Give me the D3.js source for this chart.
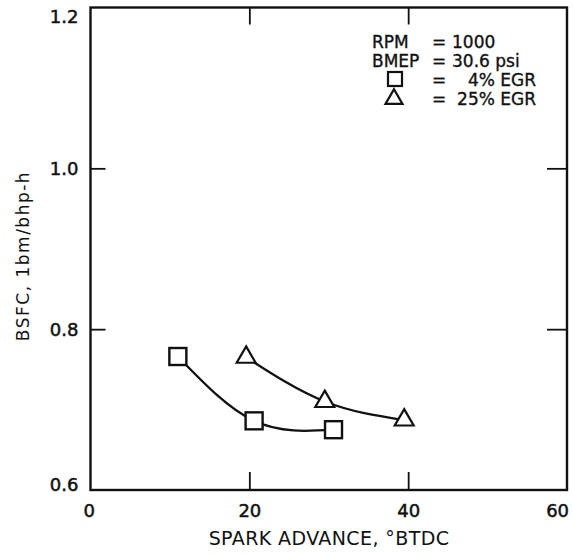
<!DOCTYPE html>
<html><head><meta charset="utf-8">
<script src="https://cdn.jsdelivr.net/npm/d3@7"></script>
<style>
body{margin:0;background:#fff;}
svg{display:block;}
text{font-family:"DejaVu Sans",sans-serif;fill:#111;}
</style></head>
<body><svg id="chart" width="573" height="556"></svg>
<script>
// ---- data ----
const xTicks = [0, 20, 40, 60];
const yTicks = [0.6, 0.8, 1.0, 1.2];
const sparkAdvance4 = [11, 20.6, 30.6];
const bsfc4 = [0.766, 0.686, 0.675];
const sparkAdvance25 = [19.6, 29.5, 39.5];
const bsfc25 = [0.765, 0.71, 0.687];
const legendKeys = ["RPM", "BMEP"];
const legendVals = ["1000", "30.6 psi"];
const seriesNames = ["4% EGR", "25% EGR"];
const xTitle = "SPARK ADVANCE, °BTDC";
const yTitle = "BSFC, 1bm/bhp-h";

const svg = d3.select("#chart");
const L = 90.5, R = 567, T = 7.5, B = 490;
const x = d3.scaleLinear().domain([0, 60]).range([L, R]);
const y = d3.scaleLinear().domain([0.6, 1.2]).range([B, T]);

// frame
svg.append("rect").attr("x", L).attr("y", T).attr("width", R - L).attr("height", B - T)
  .attr("fill", "none").attr("stroke", "#111").attr("stroke-width", 2.4);

// axes with inward ticks
const axStyle = g => {
  g.select(".domain").remove();
  g.selectAll(".tick line").attr("stroke", "#111").attr("stroke-width", 1.8);
  g.selectAll(".tick text").style("font-family", "DejaVu Sans, sans-serif")
    .style("font-size", "18px").attr("fill", "#111")
    .attr("stroke", "#111").attr("stroke-width", 0.5);
};
const gl = svg.append("g").attr("transform", `translate(${L},0)`)
  .call(d3.axisLeft(y).tickValues(yTicks).tickFormat(d3.format(".1f")).tickSize(-15).tickPadding(12))
  .call(axStyle);
gl.selectAll(".tick text").attr("dy", d => d === 1.2 ? "0.85em" : d === 0.6 ? "0.0em" : "0.35em");
gl.selectAll(".tick line").attr("display", d => (d === 0.6 || d === 1.2) ? "none" : null);

svg.append("g").attr("transform", `translate(${R},0)`)
  .call(d3.axisRight(y).tickValues(yTicks.filter(d => d > 0.6 && d < 1.2)).tickFormat("").tickSize(-20))
  .call(axStyle);

const gb = svg.append("g").attr("transform", `translate(0,${B})`)
  .call(d3.axisBottom(x).tickValues(xTicks).tickFormat(d3.format("d")).tickSize(-18).tickPadding(14))
  .call(axStyle);
gb.selectAll(".tick line").attr("display", d => (d === 0 || d === 60) ? "none" : null);
gb.selectAll(".tick text").attr("dx", d => d === 60 ? "-0.55em" : d === 0 ? "-0.1em" : 0);

svg.append("g").attr("transform", `translate(0,${T})`)
  .call(d3.axisTop(x).tickValues(xTicks.filter(d => d > 0 && d < 60)).tickFormat("").tickSize(-17))
  .call(axStyle);

// titles
svg.append("text").attr("x", 329).attr("y", 545).attr("text-anchor", "middle")
  .style("font-size", "19px").style("letter-spacing", "0.4px").text(xTitle);
svg.append("text").attr("transform", "translate(29,256) rotate(-90)").attr("text-anchor", "middle")
  .style("font-size", "17px").style("letter-spacing", "1.5px").text(yTitle);

// curves
const line = d3.line().x(d => x(d[0])).y(d => y(d[1])).curve(d3.curveNatural);
const s4 = sparkAdvance4.map((v, i) => [v, bsfc4[i]]);
const s25 = sparkAdvance25.map((v, i) => [v, bsfc25[i]]);
[s4, s25].forEach(s => svg.append("path").attr("d", line(s)).attr("fill", "none")
  .attr("stroke", "#111").attr("stroke-width", 2.3));

// markers
const sq = 17, tri = d3.symbol().type(d3.symbolTriangle).size(155);
svg.selectAll(".sq").data(s4).join("rect").attr("class", "sq")
  .attr("x", d => x(d[0]) - sq / 2).attr("y", d => y(d[1]) - sq / 2)
  .attr("width", sq).attr("height", sq).attr("fill", "#fff").attr("stroke", "#111").attr("stroke-width", 2.4);
svg.selectAll(".tri").data(s25).join("path").attr("class", "tri")
  .attr("transform", d => `translate(${x(d[0])},${y(d[1])})`).attr("d", tri)
  .attr("fill", "#fff").attr("stroke", "#111").attr("stroke-width", 2.2);

// legend
const lg = svg.append("g").style("font-size", "17px").attr("stroke", "#111").attr("stroke-width", 0.35);
const rowY = [48, 67, 86, 105];
legendKeys.forEach((k, i) => {
  lg.append("text").attr("x", 372).attr("y", rowY[i]).text(k);
  lg.append("text").attr("x", 432).attr("y", rowY[i]).text("=");
  lg.append("text").attr("x", 452).attr("y", rowY[i]).text(legendVals[i]);
});
lg.append("rect").attr("x", 388).attr("y", rowY[2] - 14).attr("width", 14).attr("height", 14)
  .attr("fill", "#fff").attr("stroke", "#111").attr("stroke-width", 2.2);
lg.append("path").attr("transform", `translate(394,${rowY[3] - 6})`)
  .attr("d", d3.symbol().type(d3.symbolTriangle).size(125)).attr("fill", "#fff")
  .attr("stroke", "#111").attr("stroke-width", 2.2);
seriesNames.forEach((n, i) => {
  lg.append("text").attr("x", 432).attr("y", rowY[2 + i]).text("=");
  lg.append("text").attr("x", 536).attr("y", rowY[2 + i]).attr("text-anchor", "end").text(n);
});
</script></body></html>
